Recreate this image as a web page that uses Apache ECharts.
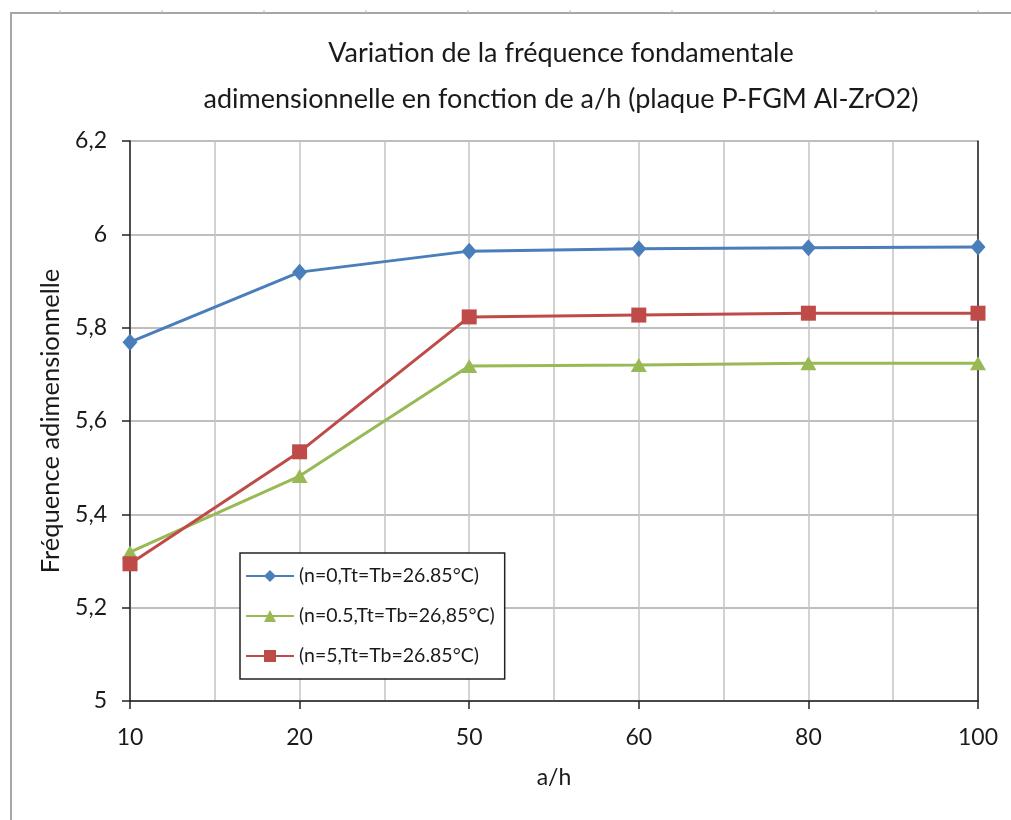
<!DOCTYPE html>
<html>
<head>
<meta charset="utf-8">
<script src="https://cdn.jsdelivr.net/npm/echarts@6/dist/echarts.min.js"></script>
<style>
  html, body { margin: 0; padding: 0; background: #fff; }
  #chart { width: 1011px; height: 820px; }
</style>
</head>
<body>
<div id="chart"></div>
<script>
// a/h ratios (categories along the horizontal axis)
const categories = ['10', '20', '50', '60', '80', '100'];

// Non-dimensional fundamental frequency for each configuration
const freqN0 = [5.769, 5.919, 5.964, 5.969, 5.971, 5.973];
const freqN05 = [5.319, 5.482, 5.718, 5.720, 5.724, 5.724];
const freqN5 = [5.294, 5.534, 5.823, 5.827, 5.831, 5.831];

const seriesNames = [
  '(n=0,Tt=Tb=26.85°C)',
  '(n=0.5,Tt=Tb=26,85°C)',
  '(n=5,Tt=Tb=26.85°C)'
];

const yTicks = { min: 5, max: 6.2, step: 0.2 };

const FONT = 'Lato, "Open Sans", sans-serif';
const TEXT = '#1a1a1a';
const toPoints = arr => arr.map((v, i) => [i, v]);

const chart = echarts.init(document.getElementById('chart'), null, { renderer: 'canvas' });

// frame around the chart area, with small ruler marks along its top edge
const frame = [{
  type: 'rect',
  shape: { x: 11, y: 13, width: 1020, height: 820 },
  style: { fill: 'none', stroke: '#a6a6a6', lineWidth: 2 },
  silent: true,
  z: 100
}];
for (let x = 60; x < 1011; x += 102) {
  frame.push({
    type: 'line',
    shape: { x1: x, y1: 10, x2: x, y2: 13 },
    style: { stroke: '#b8b8b8', lineWidth: 1 },
    silent: true,
    z: 100
  });
}

const option = {
  backgroundColor: '#fff',
  animation: false,
  title: {
    text: 'Variation de la fréquence fondamentale\nadimensionnelle en fonction de a/h (plaque P-FGM Al-ZrO2)',
    left: 556,
    textAlign: 'center',
    top: 25,
    textStyle: {
      fontFamily: FONT,
      fontWeight: 'normal',
      fontSize: 27,
      lineHeight: 46,
      color: TEXT
    }
  },
  grid: { left: 130, right: 33, top: 141, bottom: 119 },
  legend: {
    orient: 'vertical',
    left: 240,
    top: 553,
    padding: [13, 10, 13, 5],
    itemGap: 20,
    itemWidth: 48,
    itemHeight: 15,
    borderColor: '#222',
    borderWidth: 1.5,
    backgroundColor: '#fff',
    textStyle: { fontFamily: FONT, fontSize: 19.5, color: TEXT },
    data: seriesNames
  },
  xAxis: [{
    type: 'value',
    min: 0,
    max: categories.length - 1,
    interval: 1,
    name: 'a/h',
    nameLocation: 'middle',
    nameGap: 65,
    nameTextStyle: { fontFamily: FONT, fontSize: 23, color: TEXT },
    axisLine: { show: true, onZero: false, lineStyle: { color: '#222', width: 1.5 } },
    axisTick: { show: true, length: 8, lineStyle: { color: '#222', width: 1.5 } },
    axisLabel: {
      margin: 25,
      fontFamily: FONT,
      fontSize: 23,
      color: TEXT,
      formatter: v => categories[Math.round(v)] ?? ''
    },
    splitLine: { show: true, lineStyle: { color: '#c4c4c4', width: 1.5 } },
    minorTick: { show: false, splitNumber: 2 },
    minorSplitLine: { show: true, lineStyle: { color: '#c4c4c4', width: 1.5 } }
  }],
  yAxis: [{
    type: 'value',
    min: yTicks.min,
    max: yTicks.max,
    interval: yTicks.step,
    name: 'Fréquence adimensionnelle',
    nameLocation: 'middle',
    nameGap: 65,
    nameTextStyle: { fontFamily: FONT, fontSize: 25.5, color: TEXT },
    axisLine: { show: true, lineStyle: { color: '#222', width: 1.5 } },
    axisTick: { show: true, length: 8, lineStyle: { color: '#222', width: 1.5 } },
    axisLabel: {
      margin: 23,
      fontFamily: FONT,
      fontSize: 23,
      color: TEXT,
      formatter: v => {
        const r = Math.round(v * 10) / 10;
        return String(r).replace('.', ',');
      }
    },
    splitLine: { show: true, lineStyle: { color: '#a8a8a8', width: 1.5 } }
  }, {
    type: 'value',
    position: 'right',
    min: yTicks.min,
    max: yTicks.max,
    interval: yTicks.step,
    axisLine: { show: true, lineStyle: { color: '#222', width: 1.5 } },
    axisTick: { show: false },
    axisLabel: { show: false },
    splitLine: { show: false }
  }],
  graphic: frame,
  series: [{
    name: seriesNames[0],
    type: 'line',
    data: toPoints(freqN0),
    symbol: 'diamond',
    symbolSize: [15, 17],
    itemStyle: { color: '#4a7ebb' },
    lineStyle: { color: '#4a7ebb', width: 3 }
  }, {
    name: seriesNames[1],
    type: 'line',
    data: toPoints(freqN05),
    symbol: 'triangle',
    symbolSize: [16, 14],
    itemStyle: { color: '#98b954' },
    lineStyle: { color: '#98b954', width: 3 }
  }, {
    name: seriesNames[2],
    type: 'line',
    data: toPoints(freqN5),
    symbol: 'rect',
    symbolSize: 15,
    itemStyle: { color: '#be4b48' },
    lineStyle: { color: '#be4b48', width: 3 }
  }]
};

chart.setOption(option);
</script>
</body>
</html>
